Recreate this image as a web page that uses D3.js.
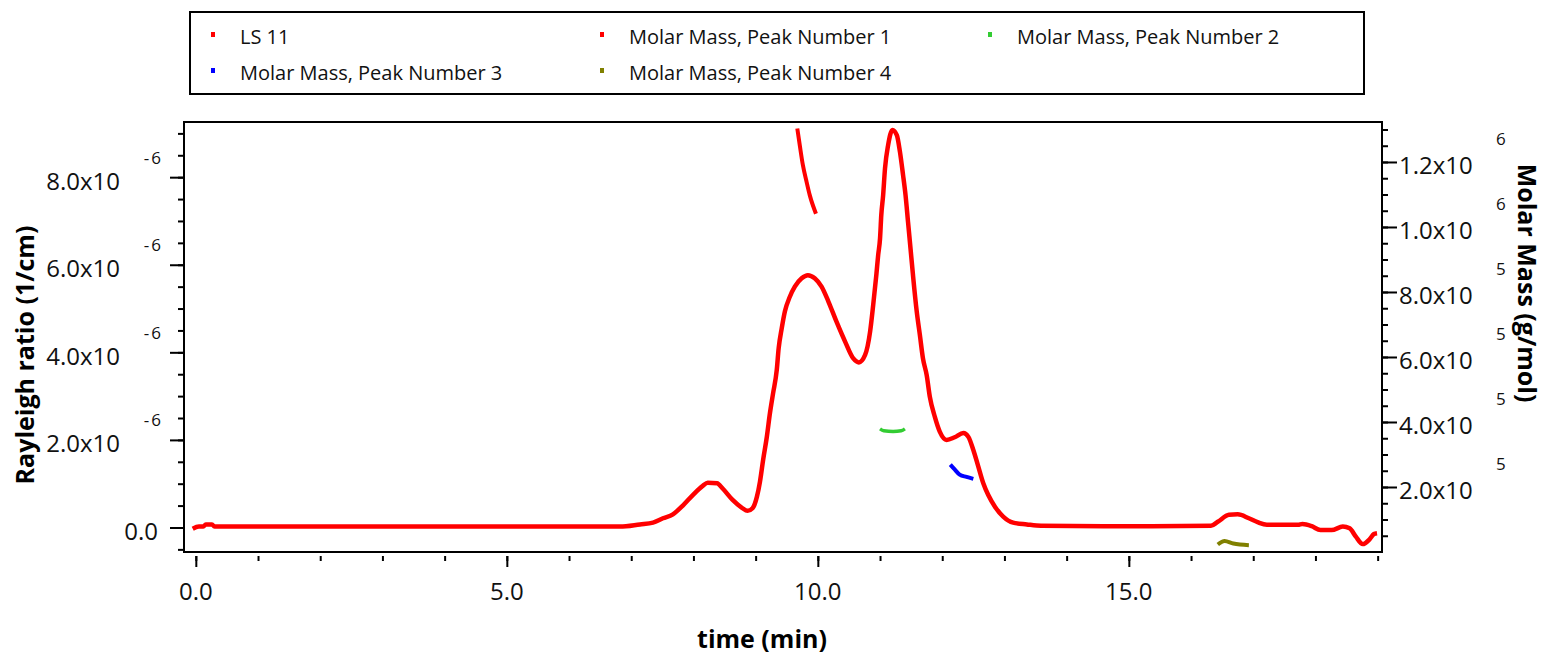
<!DOCTYPE html>
<html>
<head>
<meta charset="utf-8">
<script src="https://cdn.jsdelivr.net/npm/d3@7/dist/d3.min.js"></script>
<style>
  html, body { margin: 0; padding: 0; background: #fff; }
  svg { display: block; font-family: "Open Sans", "Noto Sans", sans-serif; }
</style>
</head>
<body>
<svg id="chart" width="1544" height="655"></svg>
<script>
// LS 11 detector trace: time (min) and Rayleigh ratio (1/cm)
const lsTime = [-0.05, 0.05, 0.12, 0.16, 0.26, 0.30, 2.0, 4.0, 6.0, 6.82, 7.14, 7.35, 7.51, 7.67, 7.83, 7.99,
  8.15, 8.23, 8.38, 8.47, 8.63, 8.78, 8.87, 8.95, 9.02, 9.07, 9.12, 9.18, 9.23, 9.28, 9.34, 9.37,
  9.42, 9.47, 9.55, 9.63, 9.74, 9.84, 9.95, 10.06, 10.17, 10.30, 10.44, 10.57, 10.66, 10.76, 10.84,
  10.89, 10.94, 10.97, 11.00, 11.02, 11.05, 11.08, 11.13, 11.20, 11.27, 11.32, 11.37, 11.41, 11.45,
  11.49, 11.53, 11.59, 11.64, 11.69, 11.75, 11.80, 11.88, 11.96, 12.07, 12.20, 12.34, 12.42, 12.50,
  12.58, 12.66, 12.74, 12.85, 12.98, 13.14, 13.36, 13.59, 15.0, 16.32, 16.43, 16.61, 16.75, 16.93,
  17.07, 17.22, 17.72, 17.79, 17.94, 18.08, 18.26, 18.44, 18.55, 18.65, 18.76, 18.87, 18.94, 18.99];
const lsValue = [-0.03, 0.02, 0.02, 0.07, 0.07, 0.02, 0.02, 0.02, 0.02, 0.02, 0.07, 0.11, 0.21, 0.30, 0.50, 0.74,
  0.95, 1.02, 1.01, 0.89, 0.63, 0.45, 0.38, 0.44, 0.70, 1.05, 1.54, 2.07, 2.61, 3.06, 3.60, 4.09,
  4.55, 4.93, 5.27, 5.50, 5.69, 5.76, 5.69, 5.50, 5.16, 4.70, 4.24, 3.86, 3.77, 3.94, 4.47,
  5.08, 5.76, 6.22, 6.60, 7.13, 7.59, 8.20, 8.73, 9.08, 8.96, 8.58, 8.05, 7.59, 6.98,
  6.37, 5.76, 4.93, 4.40, 3.86, 3.48, 2.99, 2.53, 2.19, 2.00, 2.06, 2.16, 2.07, 1.77,
  1.39, 1.01, 0.74, 0.47, 0.25, 0.11, 0.07, 0.04, 0.03, 0.04, 0.13, 0.29, 0.30, 0.21,
  0.12, 0.06, 0.06, 0.08, 0.03, -0.06, -0.06, 0.02, -0.02, -0.21, -0.38, -0.27, -0.15, -0.13]
  .map(v => v * 1e-6);

// Molar mass (g/mol) across each integrated peak
const peak1Time = [9.67, 9.71, 9.76, 9.82, 9.87, 9.97];
const peak1Mass = [1.303e6, 1.251e6, 1.190e6, 1.138e6, 1.098e6, 1.041e6];
const peak2Time = [11.00, 11.06, 11.21, 11.34, 11.40];
const peak2Mass = [3.79e5, 3.73e5, 3.71e5, 3.73e5, 3.79e5];
const peak3Time = [12.13, 12.20, 12.28, 12.39, 12.50];
const peak3Mass = [2.69e5, 2.54e5, 2.38e5, 2.31e5, 2.25e5];
const peak4Time = [16.43, 16.54, 16.68, 16.93];
const peak4Mass = [0.23e5, 0.34e5, 0.26e5, 0.21e5];

// Axis ticks
const timeMajorTicks = [0, 5, 10, 15];
const timeMinorTicks = d3.range(0, 20, 1);
const rayleighMajorTicks = [0, 2e-6, 4e-6, 6e-6, 8e-6];
const rayleighMinorTicks = d3.range(-0.5, 9.01, 0.5).map(v => v * 1e-6);
const massMajorTicks = [2e5, 4e5, 6e5, 8e5, 1.0e6, 1.2e6];
const massMinorTicks = d3.range(0.5, 13.01, 0.5).map(v => v * 1e5);

const legendItems = [
  { label: "LS 11", color: "#ff0000" },
  { label: "Molar Mass, Peak Number 1", color: "#ff0000" },
  { label: "Molar Mass, Peak Number 2", color: "#33cc33" },
  { label: "Molar Mass, Peak Number 3", color: "#0000ff" },
  { label: "Molar Mass, Peak Number 4", color: "#808000" }
];

const svg = d3.select("#chart");
const plot = { left: 184, right: 1382, top: 122, bottom: 552 };

const x = d3.scaleLinear().domain([-0.19, 19.07]).range([plot.left, plot.right]);
const yL = d3.scaleLinear().domain([-0.56e-6, 9.26e-6]).range([plot.bottom, plot.top]);
const yR = d3.scaleLinear().domain([0, 1.323e6]).range([plot.bottom, plot.top]);

svg.append("defs").append("clipPath").attr("id", "plotClip")
  .append("rect")
  .attr("x", plot.left).attr("y", plot.top)
  .attr("width", plot.right - plot.left).attr("height", plot.bottom - plot.top);

// Split a value into mantissa text and power-of-ten exponent text
function sci(v) {
  if (v === 0) return { m: "0.0", e: null };
  const e = Math.floor(Math.log10(Math.abs(v)) + 1e-9);
  const m = v / Math.pow(10, e);
  return { m: m.toFixed(1) + "x10", e: String(e) };
}

const tickColor = "#000";
const labelSize = 24;
const expSize = 17;
const titleSize = 25;

// Left axis (Rayleigh ratio)
const leftMinor = svg.append("g").attr("transform", `translate(${plot.left - 1},0)`)
  .call(d3.axisLeft(yL).tickValues(rayleighMinorTicks).tickSize(5).tickFormat(""));
const leftMajor = svg.append("g").attr("transform", `translate(${plot.left - 1},0)`)
  .call(d3.axisLeft(yL).tickValues(rayleighMajorTicks).tickSize(13).tickFormat(""));
[leftMinor, leftMajor].forEach(g => {
  g.select(".domain").remove();
  g.selectAll("line").attr("stroke", tickColor).attr("stroke-width", 2);
});
rayleighMajorTicks.forEach(v => {
  const s = sci(v);
  const yy = yL(v);
  svg.append("text")
    .attr("x", s.e ? 120 : 158).attr("y", yy + 3)
    .attr("text-anchor", "end").attr("dominant-baseline", "central")
    .attr("font-size", labelSize).attr("fill", "#111").text(s.m);
  if (s.e) {
    svg.append("text")
      .attr("x", 163).attr("y", yy - 20)
      .attr("text-anchor", "end").attr("dominant-baseline", "central")
      .attr("letter-spacing", 2)
      .attr("font-size", expSize).attr("fill", "#111").text(s.e);
  }
});

// Right axis (Molar mass)
const rightMinor = svg.append("g").attr("transform", `translate(${plot.right + 1},0)`)
  .call(d3.axisRight(yR).tickValues(massMinorTicks).tickSize(5).tickFormat(""));
const rightMajor = svg.append("g").attr("transform", `translate(${plot.right + 1},0)`)
  .call(d3.axisRight(yR).tickValues(massMajorTicks).tickSize(14).tickFormat(""));
[rightMinor, rightMajor].forEach(g => {
  g.select(".domain").remove();
  g.selectAll("line").attr("stroke", tickColor).attr("stroke-width", 2);
});
massMajorTicks.forEach(v => {
  const s = sci(v);
  const yy = yR(v);
  svg.append("text")
    .attr("x", 1399).attr("y", yy + 3)
    .attr("text-anchor", "start").attr("dominant-baseline", "central")
    .attr("font-size", labelSize).attr("fill", "#111").text(s.m);
  svg.append("text")
    .attr("x", 1496).attr("y", yy - 23)
    .attr("text-anchor", "start").attr("dominant-baseline", "central")
    .attr("font-size", expSize).attr("fill", "#111").text(s.e);
});

// Bottom axis (time)
const bottomMinor = svg.append("g").attr("transform", `translate(0,${plot.bottom + 4})`)
  .call(d3.axisBottom(x).tickValues(timeMinorTicks).tickSize(5).tickFormat(""));
const bottomMajor = svg.append("g").attr("transform", `translate(0,${plot.bottom + 4})`)
  .call(d3.axisBottom(x).tickValues(timeMajorTicks).tickSize(11).tickFormat(""));
[bottomMinor, bottomMajor].forEach(g => {
  g.select(".domain").remove();
  g.selectAll("line").attr("stroke", tickColor).attr("stroke-width", 2);
});
timeMajorTicks.forEach(v => {
  svg.append("text")
    .attr("x", x(v)).attr("y", 590)
    .attr("text-anchor", "middle").attr("dominant-baseline", "central")
    .attr("font-size", labelSize).attr("fill", "#111").text(d3.format(".1f")(v));
});

// Axis titles
svg.append("text")
  .attr("transform", "translate(24,355) rotate(-90)")
  .attr("text-anchor", "middle").attr("dominant-baseline", "central")
  .attr("font-size", titleSize).attr("font-weight", "bold").text("Rayleigh ratio (1/cm)");
svg.append("text")
  .attr("transform", "translate(1528,283) rotate(90)")
  .attr("text-anchor", "middle").attr("dominant-baseline", "central")
  .attr("font-size", titleSize).attr("font-weight", "bold").text("Molar Mass (g/mol)");
svg.append("text")
  .attr("x", 762).attr("y", 638)
  .attr("text-anchor", "middle").attr("dominant-baseline", "central")
  .attr("font-size", titleSize).attr("font-weight", "bold").text("time (min)");

// Traces
const traces = svg.append("g").attr("clip-path", "url(#plotClip)");

const lsLine = d3.line()
  .x((d, i) => x(lsTime[i]))
  .y(d => yL(d))
  .curve(d3.curveMonotoneX);
traces.append("path")
  .attr("d", lsLine(lsValue))
  .attr("fill", "none").attr("stroke", "#ff0000")
  .attr("stroke-width", 4.5).attr("stroke-linejoin", "round");

const massSeries = [
  { t: peak1Time, m: peak1Mass, color: "#ff0000", w: 4 },
  { t: peak2Time, m: peak2Mass, color: "#33cc33", w: 3.5 },
  { t: peak3Time, m: peak3Mass, color: "#0000ff", w: 4 },
  { t: peak4Time, m: peak4Mass, color: "#808000", w: 4 }
];
massSeries.forEach(s => {
  const line = d3.line()
    .x((d, i) => x(s.t[i]))
    .y(d => yR(d))
    .curve(d3.curveMonotoneX);
  traces.append("path")
    .attr("d", line(s.m))
    .attr("fill", "none").attr("stroke", s.color)
    .attr("stroke-width", s.w).attr("stroke-linejoin", "round");
});

// Plot frame
svg.append("rect")
  .attr("x", plot.left).attr("y", plot.top)
  .attr("width", plot.right - plot.left).attr("height", plot.bottom - plot.top)
  .attr("fill", "none").attr("stroke", "#000").attr("stroke-width", 2);

// Legend
const legend = svg.append("g");
legend.append("rect")
  .attr("x", 190).attr("y", 12).attr("width", 1174).attr("height", 82)
  .attr("fill", "#fff").attr("stroke", "#000").attr("stroke-width", 2);
const colX = [213, 602, 990];
const rowY = [35, 71];
legendItems.forEach((item, i) => {
  const cx = colX[i % 3];
  const cy = rowY[Math.floor(i / 3)];
  legend.append("rect")
    .attr("x", cx - 2).attr("y", cy - 3).attr("width", 4).attr("height", 5)
    .attr("fill", item.color);
  legend.append("text")
    .attr("x", cx + 27).attr("y", cy + 1)
    .attr("dominant-baseline", "central")
    .attr("font-size", 20).attr("fill", "#111").text(item.label);
});
</script>
</body>
</html>
